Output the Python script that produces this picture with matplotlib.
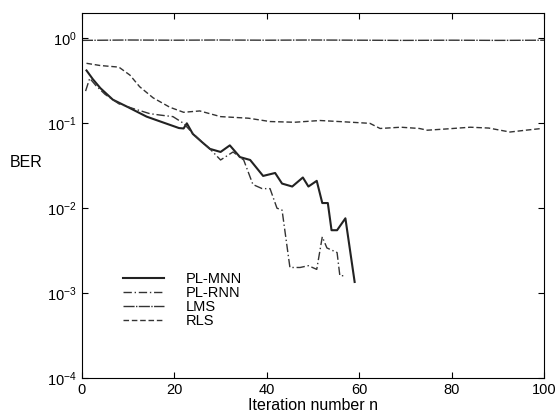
import numpy as np
import matplotlib.pyplot as plt

plt.rcParams['font.family'] = ['Liberation Sans', 'DejaVu Sans']
plt.rcParams['mathtext.fontset'] = 'custom'
plt.rcParams['mathtext.rm'] = 'Liberation Sans'

# PL-MNN (solid)
mnn_x = [1, 2.4, 4, 6.7, 10, 14, 17, 20, 21, 22, 22.7, 24, 26, 27.7, 30, 32, 34.2, 36.4,
         39.2, 41.8, 43.3, 45.5, 47.8, 49, 50.8, 52, 53.2, 54, 55.2, 57, 59]
mnn_y = [0.42, 0.33, 0.26, 0.19, 0.155, 0.12, 0.105, 0.092, 0.088, 0.087, 0.1, 0.075, 0.06,
         0.05, 0.046, 0.055, 0.04, 0.037, 0.024, 0.026, 0.0195, 0.018, 0.023, 0.018, 0.021,
         0.0115, 0.0115, 0.0055, 0.0055, 0.0076, 0.00135]

# PL-RNN (dash-dot)
rnn_x = [0.8, 1.7, 3, 5, 8, 11, 14.7, 17, 19.7, 22, 24, 26, 27.7, 30, 32.7, 35, 37, 39,
         40.7, 42.2, 43.3, 45, 47.2, 49, 50.8, 52, 53, 55.2, 55.8, 57]
rnn_y = [0.24, 0.34, 0.28, 0.22, 0.17, 0.15, 0.13, 0.125, 0.12, 0.1, 0.076, 0.06, 0.05,
         0.037, 0.046, 0.037, 0.019, 0.017, 0.017, 0.01, 0.0095, 0.002, 0.002, 0.0021,
         0.0019, 0.0046, 0.0034, 0.003, 0.0016, 0.0016]

# LMS (near 1)
lms_x = [0, 10, 20, 30, 40, 50, 60, 70, 80, 90, 100]
lms_y = [0.95, 0.96, 0.955, 0.96, 0.955, 0.96, 0.955, 0.95, 0.955, 0.95, 0.955]

# RLS (dashed)
rls_x = [1, 4, 8, 10.4, 12.5, 15.4, 19, 22, 25.5, 30, 36, 40.7, 46, 51.5, 57, 62.3, 64.5,
         69, 73, 74.7, 79, 84, 88, 92.6, 96, 99.5]
rls_y = [0.51, 0.48, 0.46, 0.37, 0.27, 0.2, 0.155, 0.135, 0.14, 0.12, 0.115, 0.105, 0.103,
         0.108, 0.104, 0.1, 0.087, 0.09, 0.087, 0.083, 0.086, 0.09, 0.088, 0.079, 0.083, 0.087]

fig = plt.figure(figsize=(5.57, 4.18), dpi=100)
ax = fig.add_axes([0.147, 0.096, 0.83, 0.873])

ax.semilogy(mnn_x, mnn_y, color='#222222', lw=1.5, label='PL-MNN')
ax.semilogy(rnn_x, rnn_y, color='#333333', lw=1.0, ls=(0, (6, 2, 1, 2)), label='PL-RNN')
ax.semilogy(lms_x, lms_y, color='#333333', lw=1.0, ls=(0, (8, 1, 1, 1)), label='LMS')
ax.semilogy(rls_x, rls_y, color='#333333', lw=1.0, ls=(0, (4, 2)), label='RLS')

ax.set_xlim(0, 100)
ax.set_ylim(1e-4, 2)
ax.set_xticks([0, 20, 40, 60, 80, 100])
ax.set_yticks([1e-4, 1e-3, 1e-2, 1e-1, 1])
ax.minorticks_off()
ax.tick_params(direction='in', top=True, right=True, length=4, labelsize=10.5)
ax.set_xlabel('Iteration number n', fontsize=11.5, labelpad=1)
ax.set_ylabel('BER', fontsize=11.5, rotation=0, va='center', ha='center')
ax.yaxis.set_label_coords(-0.12, 0.59)

ax.legend(loc='upper left', bbox_to_anchor=(0.06, 0.325), frameon=False, fontsize=10.5,
          handlelength=2.8, handletextpad=1.5, labelspacing=0.0)

fig.savefig('out.png', dpi=100)
